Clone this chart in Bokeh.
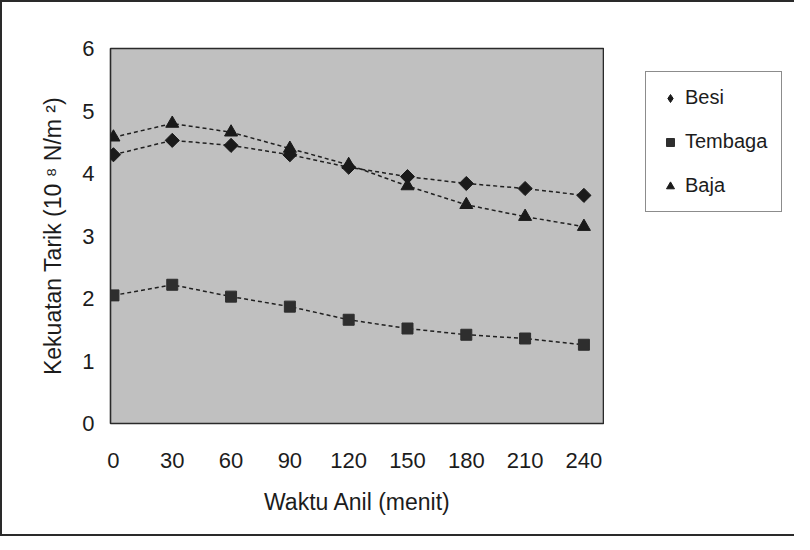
import numpy as np
from bokeh.plotting import figure
from bokeh.layouts import row
from bokeh.models import Range1d, FixedTicker, Legend, LegendItem, ColumnDataSource
from bokeh.embed import file_html
from bokeh.resources import INLINE

# --- data ---
waktu = [0, 30, 60, 90, 120, 150, 180, 210, 240]
besi = [4.30, 4.53, 4.45, 4.30, 4.10, 3.95, 3.84, 3.76, 3.65]
tembaga = [2.05, 2.22, 2.03, 1.87, 1.66, 1.52, 1.42, 1.36, 1.26]
baja = [4.58, 4.80, 4.66, 4.40, 4.14, 3.80, 3.50, 3.31, 3.15]
y_ticks = [0, 1, 2, 3, 4, 5, 6]
series_names = ["Besi", "Tembaga", "Baja"]

FONT = "Liberation Sans"
INK = "#1c1c1c"
MARK = "#1a1a1a"
SQ = "#2e2e2e"

p = figure(width=602, height=532, output_backend="svg", toolbar_location=None,
           x_range=Range1d(-1.5, 250.5), y_range=Range1d(0, 6),
           min_border_left=108, min_border_right=0, min_border_top=46,
           min_border_bottom=111)

p.background_fill_color = "#c0c0c0"
p.border_fill_color = "#ffffff"
p.outline_line_color = "#2a2a2a"
p.outline_line_width = 1.6
p.xgrid.grid_line_color = None
p.ygrid.grid_line_color = None

p.xaxis.ticker = FixedTicker(ticks=waktu)
p.yaxis.ticker = FixedTicker(ticks=y_ticks)
for ax in (p.xaxis[0], p.yaxis[0]):
    ax.axis_line_color = None
    ax.major_tick_line_color = None
    ax.minor_tick_line_color = None
    ax.major_label_text_font = FONT
    ax.major_label_text_font_size = "22px"
    ax.major_label_text_color = INK
    ax.axis_label_text_font = FONT
    ax.axis_label_text_font_size = "23px"
    ax.axis_label_text_font_style = "normal"
    ax.axis_label_text_color = INK

p.xaxis.axis_label = "Waktu Anil (menit)"
p.yaxis.axis_label = "Kekuatan Tarik (10 \u2078 N/m \u00b2)"
p.xaxis.major_label_standoff = 23
p.xaxis.axis_label_standoff = 18
p.yaxis.major_label_standoff = 10
p.yaxis.axis_label_standoff = 13

line_kw = dict(line_color="#202020", line_width=1.5, line_dash="4 3")

src_b = ColumnDataSource(dict(x=waktu, y=besi))
src_t = ColumnDataSource(dict(x=waktu, y=tembaga))
src_j = ColumnDataSource(dict(x=waktu, y=baja))

for s in (src_b, src_t, src_j):
    p.line("x", "y", source=s, **line_kw)

p.scatter("x", "y", source=src_b, marker="square", angle=np.pi / 4, size=10,
          fill_color=MARK, line_color=MARK)
p.scatter("x", "y", source=src_t, marker="square", size=11,
          fill_color=SQ, line_color=SQ)
p.scatter("x", "y", source=src_j, marker="triangle", size=13,
          fill_color=MARK, line_color=MARK)

# side panel that holds the legend (its ranges keep the data out of view)
q = figure(width=190, height=532, output_backend="svg", toolbar_location=None,
           x_range=Range1d(1000, 1001), y_range=Range1d(1000, 1001),
           x_axis_type=None, y_axis_type=None, min_border=0)
q.outline_line_color = None
q.background_fill_color = "#ffffff"
q.border_fill_color = "#ffffff"
q.xgrid.grid_line_color = None
q.ygrid.grid_line_color = None

l_b = q.scatter("x", "y", source=src_b, marker="diamond", size=14,
                fill_color=MARK, line_color=MARK)
l_t = q.scatter("x", "y", source=src_t, marker="square", size=11,
                fill_color=SQ, line_color=SQ)
l_j = q.scatter("x", "y", source=src_j, marker="triangle", size=13,
                fill_color=MARK, line_color=MARK)

legend = Legend(items=[LegendItem(label=series_names[0], renderers=[l_b]),
                       LegendItem(label=series_names[1], renderers=[l_t]),
                       LegendItem(label=series_names[2], renderers=[l_j])],
                location=(41, 211))
legend.padding = 14
legend.margin = 0
legend.spacing = 21
legend.glyph_width = 20
legend.glyph_height = 20
legend.label_height = 20
legend.label_standoff = 5
legend.label_text_font = FONT
legend.label_text_font_size = "20px"
legend.label_text_color = INK
legend.border_line_color = "#1a1a1a"
legend.border_line_width = 1.6
legend.background_fill_color = "#ffffff"
legend.background_fill_alpha = 1.0
q.add_layout(legend, "center")

layout = row(p, q, spacing=0)
layout.styles = {"border-left": "2px solid #2a2a2a", "border-top": "2px solid #2a2a2a",
                 "border-bottom": "2px solid #2a2a2a"}

open("out.html", "w").write(file_html(layout, INLINE))
